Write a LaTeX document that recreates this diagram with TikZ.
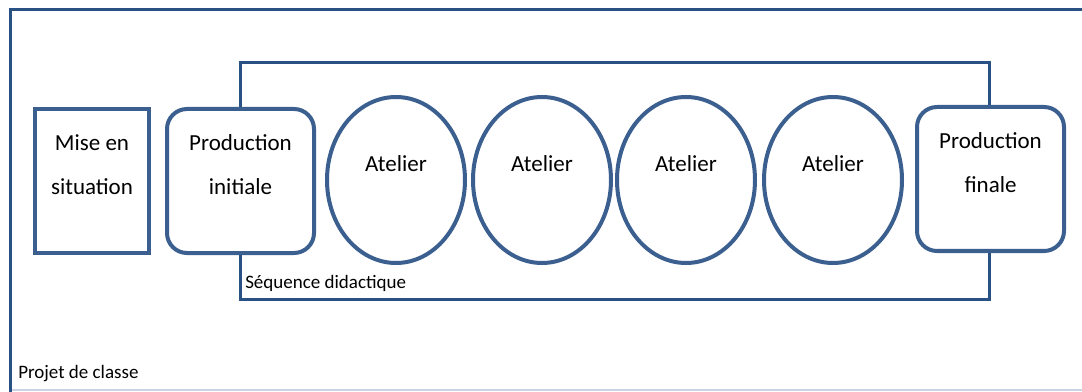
\documentclass[tikz,border=0pt]{standalone}
\usepackage{fontspec}
\setmainfont{Carlito}
\usepackage{tikz}
\usetikzlibrary{shapes.geometric}

\definecolor{bordure}{HTML}{3B5F8E}
\definecolor{cadre}{HTML}{2A5183}
\definecolor{pale}{HTML}{C9D5E5}

\tikzset{
  boite/.style={rectangle, draw=bordure, line width=3pt, fill=white,
    minimum width=85.5pt, minimum height=108pt, inner sep=0pt},
  prod/.style={boite, rounded corners=15pt, minimum width=110.25pt},
  atelier/.style={ellipse, draw=bordure, line width=3pt, fill=white,
    minimum width=103.5pt, minimum height=124.5pt, inner sep=0pt},
  txt/.style={align=center, inner sep=0pt, yshift=12pt,
    font={\fontsize{17.25}{33}\selectfont}},
  petit/.style={anchor=base west, inner sep=0pt,
    font={\fontsize{14.25}{17}\selectfont}}
}

\begin{document}
\begin{tikzpicture}[x=0.75pt, y=-0.75pt]
\useasboundingbox (0,0) rectangle (1082,392);

% projet de classe
\draw[pale, line width=1.5pt] (10,390) -- (1082,390);
\draw[cadre, line width=2.25pt] (1082,10) -- (10,10) -- (10,392);
\node[petit] (projet) at (18,378) {Projet de classe};

% sequence didactique
\draw[cadre, line width=2.25pt] (240,63) rectangle (989,299);
\node[petit] (seq) at (245,288) {Séquence didactique};

\node[boite] (mise) at (92,181) {};
\node[txt] (misetxt) at (mise) {Mise en\\situation};

\node[prod] (pinit) at (240.5,181) {};
\node[txt] (pinittxt) at (pinit) {Production\\initiale};

\foreach \i/\cx in {1/396,2/542,3/686,4/833} {
  \node[atelier] (at\i) at (\cx,180) {};
  \node[txt] (at\i txt) at (at\i) {Atelier};
}

\node[prod] (pfin) at (990.5,179) {};
\node[txt] (pfintxt) at (pfin) {Production\\finale};
\end{tikzpicture}
\end{document}
